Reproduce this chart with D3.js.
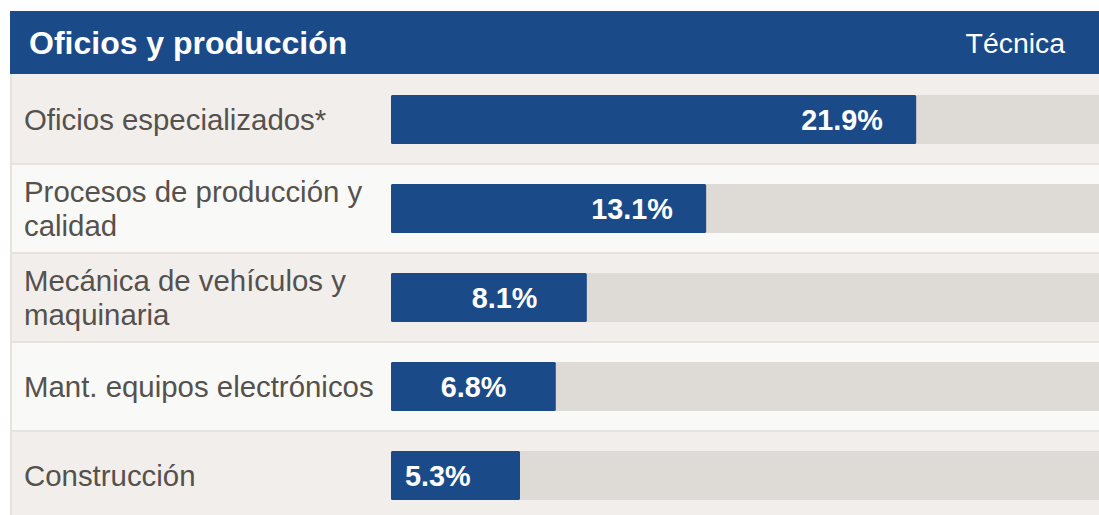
<!DOCTYPE html>
<html>
<head>
<meta charset="utf-8">
<script src="https://cdn.jsdelivr.net/npm/d3@7"></script>
<style>
  html, body { margin: 0; padding: 0; background: #ffffff; }
  svg { display: block; font-family: "Liberation Sans", Arial, sans-serif; }
</style>
</head>
<body>
<div id="chart"></div>
<script>
// Data
let title = "Oficios y producción"
let column = "Técnica"
let categories = [
  "Oficios especializados*",
  "Procesos de producción y calidad",
  "Mecánica de vehículos y maquinaria",
  "Mant. equipos electrónicos",
  "Construcción"
]
let values = [21.9, 13.1, 8.1, 6.8, 5.3]

let width = 1099, height = 515
let left = 10, headTop = 11, headBottom = 74, rowH = 89
let barStart = 391

let svg = d3.select("#chart")
  .append("svg")
  .attr("width", width)
  .attr("height", height)

// scales
let x = d3.scaleLinear().domain([0, 30]).range([393.5, 393.5 + 716])
let y = d3.scaleBand()
  .domain(categories)
  .range([headBottom, headBottom + rowH * categories.length])

let rows = categories.map(function(c, i) { return {cat: c, val: values[i], i: i} })

// header
svg.append("rect")
  .attr("x", left).attr("y", headTop)
  .attr("width", width - left).attr("height", headBottom - headTop)
  .attr("fill", "#1b4a89")
svg.append("text")
  .attr("x", 29).attr("y", 54)
  .attr("fill", "#ffffff")
  .attr("font-size", 32)
  .attr("font-weight", "bold")
  .text(title)
svg.append("text")
  .attr("x", 1065).attr("y", 53)
  .attr("text-anchor", "end")
  .attr("fill", "#ffffff")
  .attr("font-size", 28.4)
  .text(column)

// row backgrounds
let g = svg.selectAll("g.row")
  .data(rows, function(d) { return d.cat })
  .enter()
  .append("g")
  .attr("class", "row")

g.append("rect")
  .attr("x", left)
  .attr("y", function(d) { return y(d.cat) })
  .attr("width", width - left)
  .attr("height", y.bandwidth())
  .attr("fill", function(d) { return d.i % 2 == 0 ? "#f2eeeb" : "#f9f9f7" })

// separators between rows
g.filter(function(d) { return d.i > 0 })
  .append("rect")
  .attr("x", left)
  .attr("y", function(d) { return y(d.cat) })
  .attr("width", width - left)
  .attr("height", 2)
  .attr("fill", "#e6e2de")

// left border
svg.append("rect")
  .attr("x", left).attr("y", headBottom)
  .attr("width", 2).attr("height", height - headBottom)
  .attr("fill", "#e6e2de")

// track
g.append("rect")
  .attr("x", barStart)
  .attr("y", function(d) { return y(d.cat) + 21 })
  .attr("width", x.range()[1] - barStart)
  .attr("height", 49)
  .attr("fill", "#dedbd6")

// bars
g.append("rect")
  .attr("x", barStart)
  .attr("y", function(d) { return y(d.cat) + 21 })
  .attr("width", function(d) { return x(d.val) - barStart })
  .attr("height", 49)
  .attr("rx", 1.5)
  .attr("fill", "#1b4a89")

// value labels
g.append("text")
  .attr("x", function(d) { return x(d.val) - 115 })
  .attr("y", function(d) { return y(d.cat) + 56 })
  .attr("fill", "#ffffff")
  .attr("font-size", 28.8)
  .attr("font-weight", "bold")
  .text(function(d) { return d.val.toFixed(1) + "%" })

// category labels, wrapped to fit the column
let labels = g.append("text")
  .attr("x", 24)
  .attr("fill", "#55514d")
  .attr("font-size", 29.4)

labels.each(function(d) {
  let t = d3.select(this)
  let words = d.cat.split(" ")
  let lines = [], line = []
  let probe = t.append("tspan")
  words.forEach(function(w) {
    line.push(w)
    probe.text(line.join(" "))
    if (probe.node().getComputedTextLength() > 360 && line.length > 1) {
      line.pop()
      lines.push(line.join(" "))
      line = [w]
    }
  })
  lines.push(line.join(" "))
  probe.remove()
  let mid = y(d.cat) + 45.5 + 10.5
  let lh = 34
  lines.forEach(function(l, k) {
    t.append("tspan")
      .attr("x", 24)
      .attr("y", mid + (k - (lines.length - 1) / 2) * lh)
      .text(l)
  })
})
</script>
</body>
</html>
